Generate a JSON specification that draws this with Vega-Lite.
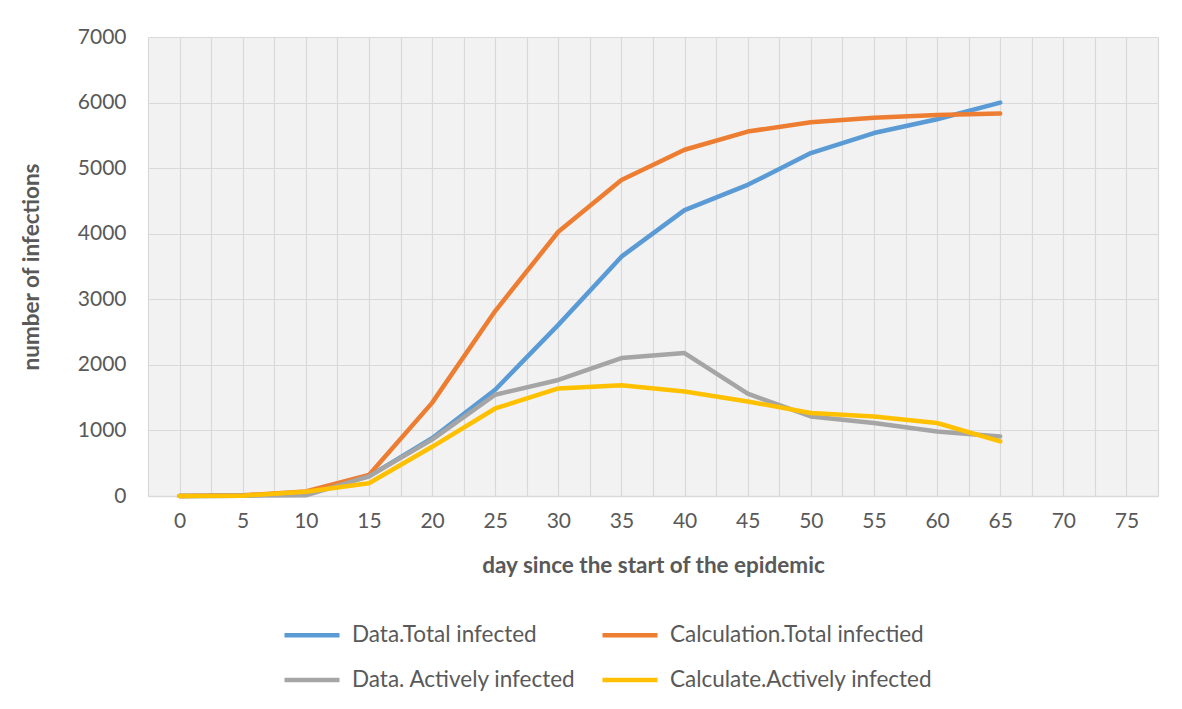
{
  "$schema": "https://vega.github.io/schema/vega-lite/v6.json",
  "width": 1010,
  "height": 459,
  "autosize": "none",
  "padding": {"left": 148, "top": 37, "right": 24, "bottom": 213},
  "background": "white",
  "config": {
    "font": "Lato",
    "view": {"fill": "#f2f2f2", "stroke": null},
    "axis": {"labelFont": "Lato", "titleFont": "Lato", "labelColor": "#595959", "titleColor": "#595959", "gridColor": "#d9d9d9", "gridWidth": 1.2, "ticks": false}
  },
  "data": {
    "values": [
      {"day": 0, "series": "Data.Total infected", "value": 0},
      {"day": 5, "series": "Data.Total infected", "value": 5},
      {"day": 10, "series": "Data.Total infected", "value": 50},
      {"day": 15, "series": "Data.Total infected", "value": 300},
      {"day": 20, "series": "Data.Total infected", "value": 880},
      {"day": 25, "series": "Data.Total infected", "value": 1620},
      {"day": 30, "series": "Data.Total infected", "value": 2610},
      {"day": 35, "series": "Data.Total infected", "value": 3650},
      {"day": 40, "series": "Data.Total infected", "value": 4360},
      {"day": 45, "series": "Data.Total infected", "value": 4745},
      {"day": 50, "series": "Data.Total infected", "value": 5230},
      {"day": 55, "series": "Data.Total infected", "value": 5535},
      {"day": 60, "series": "Data.Total infected", "value": 5745},
      {"day": 65, "series": "Data.Total infected", "value": 6000},
      {"day": 0, "series": "Calculation.Total infectied", "value": 0},
      {"day": 5, "series": "Calculation.Total infectied", "value": 10},
      {"day": 10, "series": "Calculation.Total infectied", "value": 70},
      {"day": 15, "series": "Calculation.Total infectied", "value": 320},
      {"day": 20, "series": "Calculation.Total infectied", "value": 1420},
      {"day": 25, "series": "Calculation.Total infectied", "value": 2820},
      {"day": 30, "series": "Calculation.Total infectied", "value": 4030},
      {"day": 35, "series": "Calculation.Total infectied", "value": 4820},
      {"day": 40, "series": "Calculation.Total infectied", "value": 5280},
      {"day": 45, "series": "Calculation.Total infectied", "value": 5558},
      {"day": 50, "series": "Calculation.Total infectied", "value": 5700},
      {"day": 55, "series": "Calculation.Total infectied", "value": 5770},
      {"day": 60, "series": "Calculation.Total infectied", "value": 5812},
      {"day": 65, "series": "Calculation.Total infectied", "value": 5833},
      {"day": 0, "series": "Data. Actively infected", "value": 0},
      {"day": 5, "series": "Data. Actively infected", "value": 5},
      {"day": 10, "series": "Data. Actively infected", "value": 10},
      {"day": 15, "series": "Data. Actively infected", "value": 300},
      {"day": 20, "series": "Data. Actively infected", "value": 860},
      {"day": 25, "series": "Data. Actively infected", "value": 1544},
      {"day": 30, "series": "Data. Actively infected", "value": 1770},
      {"day": 35, "series": "Data. Actively infected", "value": 2104},
      {"day": 40, "series": "Data. Actively infected", "value": 2180},
      {"day": 45, "series": "Data. Actively infected", "value": 1560},
      {"day": 50, "series": "Data. Actively infected", "value": 1214},
      {"day": 55, "series": "Data. Actively infected", "value": 1113},
      {"day": 60, "series": "Data. Actively infected", "value": 985},
      {"day": 65, "series": "Data. Actively infected", "value": 909},
      {"day": 0, "series": "Calculate.Actively infected", "value": 0},
      {"day": 5, "series": "Calculate.Actively infected", "value": 5},
      {"day": 10, "series": "Calculate.Actively infected", "value": 65},
      {"day": 15, "series": "Calculate.Actively infected", "value": 195},
      {"day": 20, "series": "Calculate.Actively infected", "value": 750},
      {"day": 25, "series": "Calculate.Actively infected", "value": 1335},
      {"day": 30, "series": "Calculate.Actively infected", "value": 1640},
      {"day": 35, "series": "Calculate.Actively infected", "value": 1690},
      {"day": 40, "series": "Calculate.Actively infected", "value": 1595},
      {"day": 45, "series": "Calculate.Actively infected", "value": 1442},
      {"day": 50, "series": "Calculate.Actively infected", "value": 1265},
      {"day": 55, "series": "Calculate.Actively infected", "value": 1214},
      {"day": 60, "series": "Calculate.Actively infected", "value": 1113},
      {"day": 65, "series": "Calculate.Actively infected", "value": 832}
    ]
  },
  "mark": {"type": "line", "strokeWidth": 4.5, "strokeCap": "round", "strokeJoin": "round"},
  "encoding": {
    "x": {
      "field": "day",
      "type": "quantitative",
      "scale": {"domain": [-2.5, 77.5], "nice": false, "zero": false},
      "axis": {
        "title": "day since the start of the epidemic",
        "titleFontSize": 22.5,
        "titleFontWeight": "bold",
        "titlePadding": 23,
        "labelFontSize": 21,
        "labelPadding": 14,
        "values": [-2.5, 0, 2.5, 5, 7.5, 10, 12.5, 15, 17.5, 20, 22.5, 25, 27.5, 30, 32.5, 35, 37.5, 40, 42.5, 45, 47.5, 50, 52.5, 55, 57.5, 60, 62.5, 65, 67.5, 70, 72.5, 75, 77.5],
        "labelExpr": "(datum.value >= 0 && datum.value % 5 == 0) ? datum.label : ''",
        "domainColor": "#d9d9d9",
        "domainWidth": 1.5,
        "labelOverlap": false,
        "labelFlush": false
      }
    },
    "y": {
      "field": "value",
      "type": "quantitative",
      "scale": {"domain": [0, 7000], "nice": false},
      "axis": {
        "title": "number of infections",
        "titleFontSize": 22.5,
        "titleFontWeight": "bold",
        "titlePadding": 34,
        "labelFontSize": 21,
        "labelPadding": 22,
        "format": "d",
        "values": [0, 1000, 2000, 3000, 4000, 5000, 6000, 7000],
        "domain": false,
        "labelFlush": false
      }
    },
    "color": {
      "field": "series",
      "type": "nominal",
      "scale": {
        "domain": ["Data.Total infected", "Data. Actively infected", "Calculation.Total infectied", "Calculate.Actively infected"],
        "range": ["#5B9BD5", "#A5A5A5", "#ED7D31", "#FFC000"]
      },
      "legend": {
        "title": null,
        "orient": "none",
        "legendX": 134,
        "legendY": 568,
        "columns": 2,
        "columnPadding": 17,
        "rowPadding": 3,
        "symbolType": "stroke",
        "symbolSize": 3025,
        "symbolStrokeWidth": 4.5,
        "labelFontSize": 22.5,
        "labelColor": "#595959",
        "labelFont": "Lato",
        "labelOffset": 10,
        "labelLimit": 400
      }
    }
  }
}
